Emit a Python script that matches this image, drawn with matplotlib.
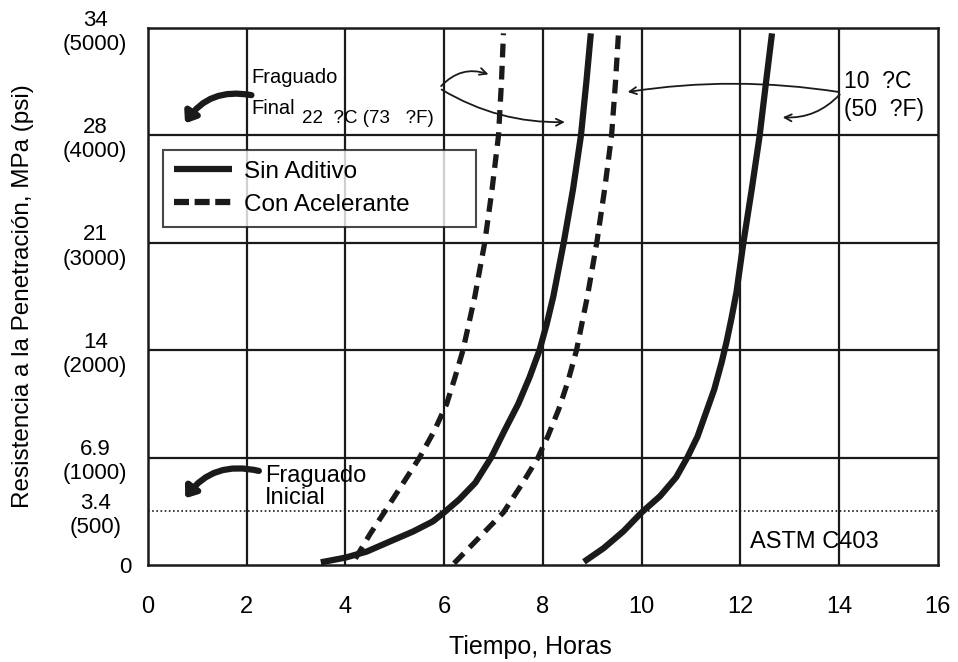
import matplotlib
matplotlib.use("Agg")
import matplotlib.pyplot as plt
import matplotlib.transforms as mtransforms

plt.rcParams["font.family"] = ["Liberation Sans Narrow", "Liberation Sans", "DejaVu Sans"]

# Penetration-resistance curves: elapsed time (hours) against resistance (psi)
sin_22_t = [3.5, 4.0, 4.43, 4.9, 5.37, 5.77, 6.0, 6.3, 6.63, 6.95, 7.22, 7.5,
            7.73, 7.93, 8.08, 8.21, 8.42, 8.61, 8.77, 8.88, 8.97]
sin_22_psi = [25, 69, 125, 219, 312, 406, 490, 609, 766, 1000, 1250, 1500,
              1750, 2000, 2250, 2500, 3000, 3500, 4000, 4500, 4950]

acel_22_t = [4.2, 4.5, 4.8, 5.15, 5.5, 5.8, 6.05, 6.22, 6.38, 6.62, 6.82, 6.97, 7.1, 7.16, 7.2]
acel_22_psi = [60, 290, 500, 750, 1000, 1250, 1500, 1750, 2000, 2500, 3000, 3500, 4000, 4500, 4950]

sin_10_t = [8.83, 9.23, 9.63, 10.0, 10.37, 10.7, 10.93, 11.13, 11.3, 11.47, 11.62, 11.72,
            11.82, 11.92, 12.06, 12.23, 12.39, 12.52, 12.64]
sin_10_psi = [30, 157, 314, 490, 640, 818, 1006, 1195, 1415, 1635, 1887, 2080,
              2300, 2540, 3000, 3500, 4000, 4500, 4950]

acel_10_t = [6.2, 6.63, 7.2, 7.57, 7.9, 8.1, 8.32, 8.5, 8.68, 8.9, 9.09, 9.25, 9.39, 9.47, 9.53]
acel_10_psi = [16, 219, 490, 750, 1000, 1200, 1450, 1700, 2000, 2500, 3000, 3500, 4000, 4500, 4950]

x_ticks = [0, 2, 4, 6, 8, 10, 12, 14, 16]
y_ticks = [0, 500, 1000, 2000, 3000, 4000, 5000]
y_labels = ["0", "3.4\n(500)", "6.9\n(1000)", "14\n(2000)", "21\n(3000)",
            "28\n(4000)", "34\n(5000)"]

INK = "#1a1a1a"

fig = plt.figure(figsize=(9.58, 6.62), dpi=100)
ax = fig.add_axes([0.1545, 0.1465, 0.8245, 0.8112])
ax.set_xlim(0, 16)
ax.set_ylim(0, 5000)

# grid drawn by hand so the 500 psi line can be dotted
for x in x_ticks[1:-1]:
    ax.axvline(x, color=INK, lw=1.6, zorder=1)
for y in y_ticks[2:-1]:
    ax.axhline(y, color=INK, lw=1.6, zorder=1)
ax.axhline(500, color=INK, lw=1.2, ls=(0, (1, 1.5)), zorder=1)

for s in ax.spines.values():
    s.set_linewidth(1.8)
    s.set_color(INK)

dash = (0, (2.6, 1.6))
ax.plot(sin_22_t, sin_22_psi, color=INK, lw=4.5, solid_capstyle="butt",
        solid_joinstyle="round", zorder=3, label="Sin Aditivo")
ax.plot(acel_22_t, acel_22_psi, color=INK, lw=3.8, ls=dash,
        zorder=3, label="Con Acelerante")
ax.plot(sin_10_t, sin_10_psi, color=INK, lw=4.5, solid_capstyle="butt",
        solid_joinstyle="round", zorder=3)
ax.plot(acel_10_t, acel_10_psi, color=INK, lw=3.8, ls=dash, zorder=3)

ax.set_xticks(x_ticks)
ax.set_yticks(y_ticks)
ax.set_xticklabels([str(x) for x in x_ticks], fontsize=17)
ax.set_yticklabels(y_labels, fontsize=16, linespacing=1.2)
ax.tick_params(axis="both", length=0)
ax.tick_params(axis="x", pad=22)
ax.tick_params(axis="y", pad=38)
for lab in ax.get_yticklabels():
    lab.set_horizontalalignment("center")
zero = ax.get_yticklabels()[0]
zero.set_transform(zero.get_transform()
                   + mtransforms.ScaledTranslation(0.30, 0, fig.dpi_scale_trans))

ax.set_xlabel("Tiempo, Horas", fontsize=18)
ax.xaxis.set_label_coords(0.484, -0.13)
ax.set_ylabel("Resistencia a la Penetración, MPa (psi)", fontsize=17.5, labelpad=21)

leg = ax.legend(loc="upper left", bbox_to_anchor=(0.019, 0.628, 0.396, 0.145),
                mode="expand", fontsize=17.5, frameon=True, fancybox=False,
                handlelength=2.4, borderpad=0.45, labelspacing=0.45,
                handletextpad=0.5, borderaxespad=0)
leg.get_frame().set_edgecolor(INK)
leg.get_frame().set_linewidth(1.5)
leg.set_zorder(5)
for h in leg.get_lines():
    h.set_linewidth(4.5)
leg.get_lines()[1].set_linestyle((0, (2.4, 0.9)))

# labels for final and initial set
ax.text(2.1, 4540, "Fraguado", fontsize=14.5, ha="left", va="center", zorder=6)
ax.text(2.1, 4250, "Final", fontsize=14.5, ha="left", va="center", zorder=6)
ax.text(3.12, 4160, "22  ?C (73   ?F)", fontsize=13.5, ha="left", va="center", zorder=6)
ax.annotate("", xy=(0.72, 4090), xytext=(2.15, 4370),
            arrowprops=dict(arrowstyle="-|>,head_length=0.6,head_width=0.45",
                            lw=4.5, color=INK,
                            connectionstyle="arc3,rad=0.35"), zorder=6)
ax.text(2.37, 730, "Fraguado\nInicial", fontsize=17, ha="left", va="center",
        linespacing=1.0, zorder=6)
ax.annotate("", xy=(0.72, 600), xytext=(2.3, 870),
            arrowprops=dict(arrowstyle="-|>,head_length=0.6,head_width=0.45",
                            lw=4.5, color=INK,
                            connectionstyle="arc3,rad=0.35"), zorder=6)

# temperature callouts
ax.text(14.1, 4370, "10  ?C\n(50  ?F)", fontsize=16.5, ha="left", va="center",
        linespacing=1.3, zorder=6)
thin = dict(arrowstyle="->,head_length=0.5,head_width=0.25", lw=1.3, color=INK)
ax.annotate("", xy=(9.66, 4400), xytext=(14.05, 4400),
            arrowprops=dict(thin, connectionstyle="arc3,rad=0.08"))
ax.annotate("", xy=(12.8, 4170), xytext=(14.05, 4400),
            arrowprops=dict(thin, connectionstyle="arc3,rad=-0.25"))
ax.annotate("", xy=(6.95, 4560), xytext=(5.9, 4440),
            arrowprops=dict(thin, connectionstyle="arc3,rad=-0.35"))
ax.annotate("", xy=(8.5, 4125), xytext=(5.9, 4440),
            arrowprops=dict(thin, connectionstyle="arc3,rad=0.15"))

ax.text(12.19, 210, "ASTM C403", fontsize=17, ha="left", va="center", zorder=6)

fig.savefig("out.png", dpi=100)
